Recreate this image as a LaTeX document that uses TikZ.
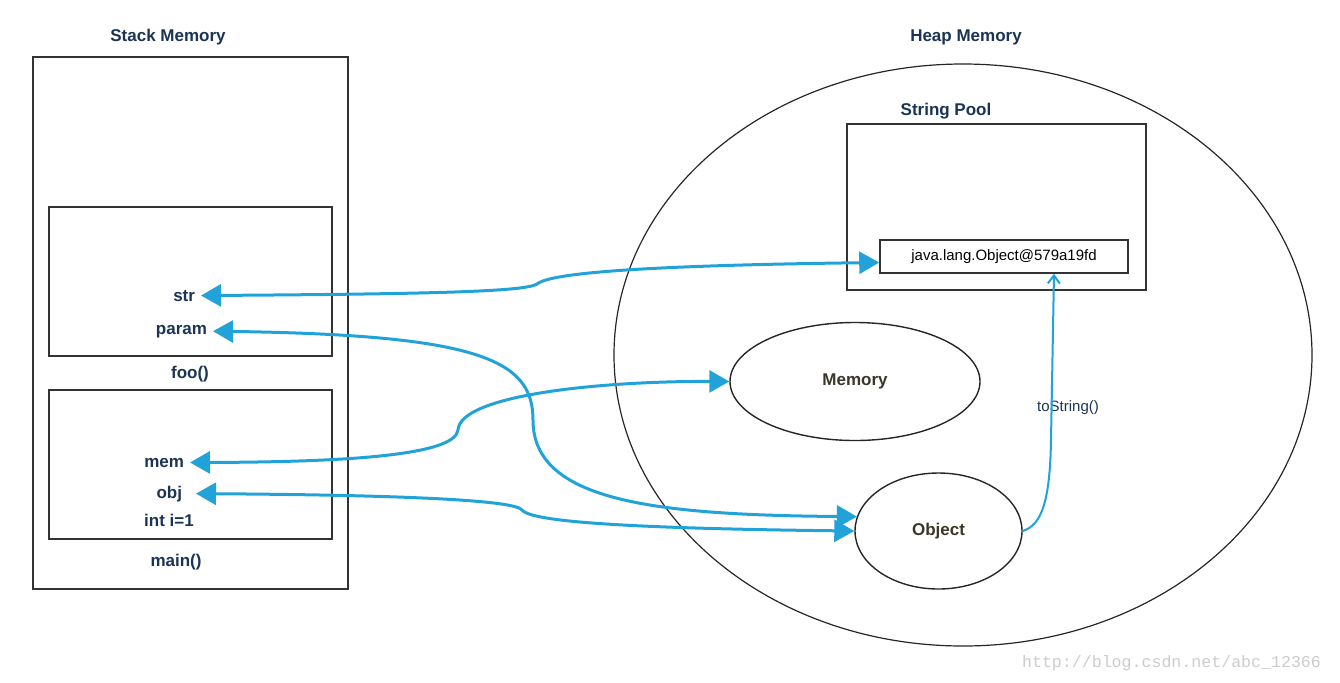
\documentclass[tikz,border=0pt]{standalone}
\usepackage{fontspec}
\setmainfont{Liberation Sans}
\newfontfamily\wmfont{Liberation Mono}
\usepackage{tikz}
\usetikzlibrary{
  arrows.meta,
  calc,
  positioning,
  shapes,
}
\definecolor{labelnavy}{RGB}{27, 52, 86}
\definecolor{pointerblue}{RGB}{33, 163, 217}
\definecolor{objtext}{RGB}{58, 54, 40}
\tikzstyle{ref} = [
  {Triangle[length=10pt,width=11pt]}-{Triangle[length=10pt,width=11pt]},
  line width=1.5pt,
  pointerblue,
]
\tikzstyle{call} = [
  -{Straight Barb[length=4pt,width=6pt]},
  line width=1pt,
  pointerblue,
]
\tikzstyle{frame} = [rectangle, draw=black!80, line width=0.8pt, inner sep=0pt]
\tikzstyle{title} = [font=\bfseries\fontsize{8.5}{10}\selectfont, text=labelnavy, anchor=base]
\tikzstyle{var} = [title, anchor=base east, inner sep=0pt, outer sep=3pt]
\tikzstyle{blob} = [ellipse, draw=black!85, line width=0.7pt, inner sep=0pt,
  font=\bfseries\fontsize{8.5}{10}\selectfont, text=objtext]

\begin{document}
\begin{tikzpicture}[x=0.5pt, y=-0.5pt]
  \useasboundingbox (0,0) rectangle (1340,682);
  % stack side
  \node[title] (stacktitle) at (168,41) {Stack Memory};
  \node[frame, minimum width=157.5pt, minimum height=266pt] (stack) at (190.5,323) {};
  \node[frame, minimum width=141.5pt, minimum height=74.5pt] (foo) at (190.5,281.5) {};
  \node[frame, minimum width=141.5pt, minimum height=74.5pt] (main) at (190.5,464.5) {};
  \node[title] (foolabel) at (190,378) {foo()};
  \node[title] (mainlabel) at (176,566) {main()};
  \node[var] (varstr) at (201,301) {str};
  \node[var] (varparam) at (213,334) {param};
  \node[var] (varmem) at (190,467) {mem};
  \node[var] (varobj) at (188,498) {obj};
  \node[title] (vari) at (169,526) {int i=1};
  % heap side
  \node[title] (heaptitle) at (966,41) {Heap Memory};
  \node[ellipse, draw=black!85, line width=0.6pt, minimum width=349pt, minimum height=291pt] (heap) at (963,355) {};
  \node[title] (pooltitle) at (946,115) {String Pool};
  \node[frame, minimum width=149.5pt, minimum height=83pt] (pool) at (996.5,207) {};
  \node[frame, minimum width=124pt, minimum height=16.5pt,
    font=\fontsize{7.5}{9}\selectfont] (jstr) at (1004,256.5) {java.lang.Object@579a19fd};
  \node[blob, minimum width=125pt, minimum height=59pt] (memory) at (855,381.5) {Memory};
  \node[blob, minimum width=83.5pt, minimum height=58pt] (object) at (938.5,531) {Object};
  \node[anchor=base, font=\fontsize{7.5}{8}\selectfont, text=labelnavy] (tostr) at (1068,411) {toString()};
  \coordinate (poolin) at ([yshift=-3pt]jstr.west);
  \coordinate (strin) at ([xshift=25pt]jstr.south);
  % references
  \draw[ref] (varstr.east) .. controls (420,294) and (525,292) .. (537,284)
    .. controls (547,276) and (600,266) .. (poolin);
  \draw[ref] (varparam.east) .. controls (480,335) and (533,360) .. (533,420)
    .. controls (533,500) and (650,515) .. (object.170);
  \draw[ref] (varmem.east) .. controls (350,462) and (455,455) .. (458,430)
    .. controls (460,395) and (600,381) .. (memory.west);
  \draw[ref] ([xshift=4pt]varobj.east) .. controls (400,495) and (515,500) .. (522,510)
    .. controls (530,520) and (600,528) .. (object.west);
  \draw[call] (object.east) .. controls (1042,525) and (1050,500) .. (1051,440) -- (strin);
  \node[anchor=base east, font=\wmfont\fontsize{8.3}{9}\selectfont, text=black!20] (mark) at (1328,667) {http://blog.csdn.net/abc\_12366};
\end{tikzpicture}
\end{document}
